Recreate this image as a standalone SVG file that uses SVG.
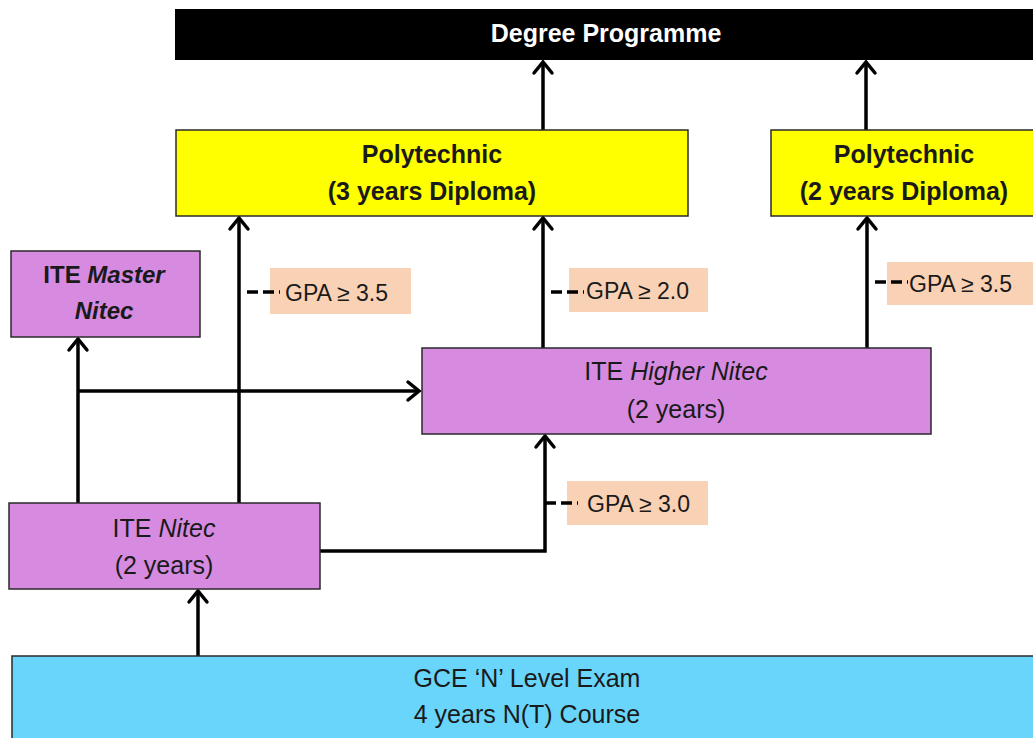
<svg xmlns="http://www.w3.org/2000/svg" width="1033" height="738" viewBox="0 0 1033 738">
<style>
.box{stroke:#2a2a2a;stroke-width:1.5}
.t{font-family:"Liberation Sans",Arial,sans-serif;text-anchor:middle;fill:#1a1a1a}
.b{font-weight:bold}
.g{font-family:"Liberation Sans",Arial,sans-serif;font-size:23px;fill:#1a1a1a}
.c{fill:none;stroke:#000;stroke-width:3.5}
.d{fill:none;stroke:#000;stroke-width:3.5;stroke-dasharray:11 5}
.peach{fill:#f9d1b4}
</style>
<defs>
<marker id="ah" markerUnits="userSpaceOnUse" markerWidth="30" markerHeight="30" viewBox="-15 -15 30 30" refX="0" refY="0" orient="auto">
<path d="M-11,-9 L0,0 L-11,9" fill="none" stroke="#000" stroke-width="3.5" stroke-linecap="round" stroke-linejoin="miter"/>
</marker>
</defs>
<rect width="1033" height="738" fill="#fff"/>

<g id="connectors">
<path class="c" d="M543,130 V62" marker-end="url(#ah)"/>
<path class="c" d="M866,130 V62" marker-end="url(#ah)"/>
<path class="c" d="M239,503 V218" marker-end="url(#ah)"/>
<path class="c" d="M543,348 V218" marker-end="url(#ah)"/>
<path class="c" d="M867,348 V218" marker-end="url(#ah)"/>
<path class="c" d="M78,503 V339" marker-end="url(#ah)"/>
<path class="c" d="M78,391 H419" marker-end="url(#ah)"/>
<path class="c" d="M320,551 H545 V436" marker-end="url(#ah)"/>
<path class="c" d="M198,656 V591" marker-end="url(#ah)"/>
</g>

<g id="degree">
<rect x="175" y="9" width="870" height="51" fill="#000"/>
<text class="t b" x="606" y="42" font-size="25" fill="#fff" style="fill:#fff">Degree Programme</text>
</g>

<g id="poly3">
<rect class="box" x="176" y="130" width="512" height="86" fill="#ffff00"/>
<text class="t b" x="432" y="163" font-size="25">Polytechnic</text>
<text class="t b" x="432" y="200" font-size="25">(3 years Diploma)</text>
</g>

<g id="poly2">
<rect class="box" x="771" y="130" width="280" height="86" fill="#ffff00"/>
<text class="t b" x="904" y="163" font-size="25">Polytechnic</text>
<text class="t b" x="904" y="200" font-size="25">(2 years Diploma)</text>
</g>

<g id="master">
<rect class="box" x="11" y="251" width="189" height="86" fill="#d68be0"/>
<text class="t b" x="104" y="283" font-size="24">ITE <tspan font-style="italic">Master</tspan></text>
<text class="t b" x="104" y="319" font-size="24" font-style="italic">Nitec</text>
</g>

<g id="higher">
<rect class="box" x="422" y="348" width="509" height="86" fill="#d68be0"/>
<text class="t" x="676" y="380" font-size="25">ITE <tspan font-style="italic">Higher Nitec</tspan></text>
<text class="t" x="676" y="418" font-size="25">(2 years)</text>
</g>

<g id="nitec">
<rect class="box" x="9" y="503" width="311" height="86" fill="#d68be0"/>
<text class="t" x="164" y="537" font-size="25">ITE <tspan font-style="italic">Nitec</tspan></text>
<text class="t" x="164" y="574" font-size="25">(2 years)</text>
</g>

<g id="gce">
<rect class="box" x="12" y="656" width="1040" height="100" fill="#69d5fb"/>
<text class="t" x="527" y="687" font-size="25">GCE ‘N’ Level Exam</text>
<text class="t" x="527" y="723" font-size="25">4 years N(T) Course</text>
</g>

<g id="gpa1">
<rect class="peach" x="270" y="268" width="141" height="46"/>
<path class="d" d="M247,292 H280"/>
<text class="g" x="285" y="301">GPA ≥ 3.5</text>
</g>

<g id="gpa2">
<rect class="peach" x="569" y="268" width="139" height="44"/>
<path class="d" d="M551,292 H584"/>
<text class="g" x="586" y="299">GPA ≥ 2.0</text>
</g>

<g id="gpa3">
<rect class="peach" x="887" y="262" width="160" height="43"/>
<path class="d" d="M875,282 H908"/>
<text class="g" x="909" y="292">GPA ≥ 3.5</text>
</g>

<g id="gpa4">
<rect class="peach" x="567" y="481" width="141" height="44"/>
<path class="d" d="M545,503 H578"/>
<text class="g" x="587" y="512">GPA ≥ 3.0</text>
</g>
</svg>
